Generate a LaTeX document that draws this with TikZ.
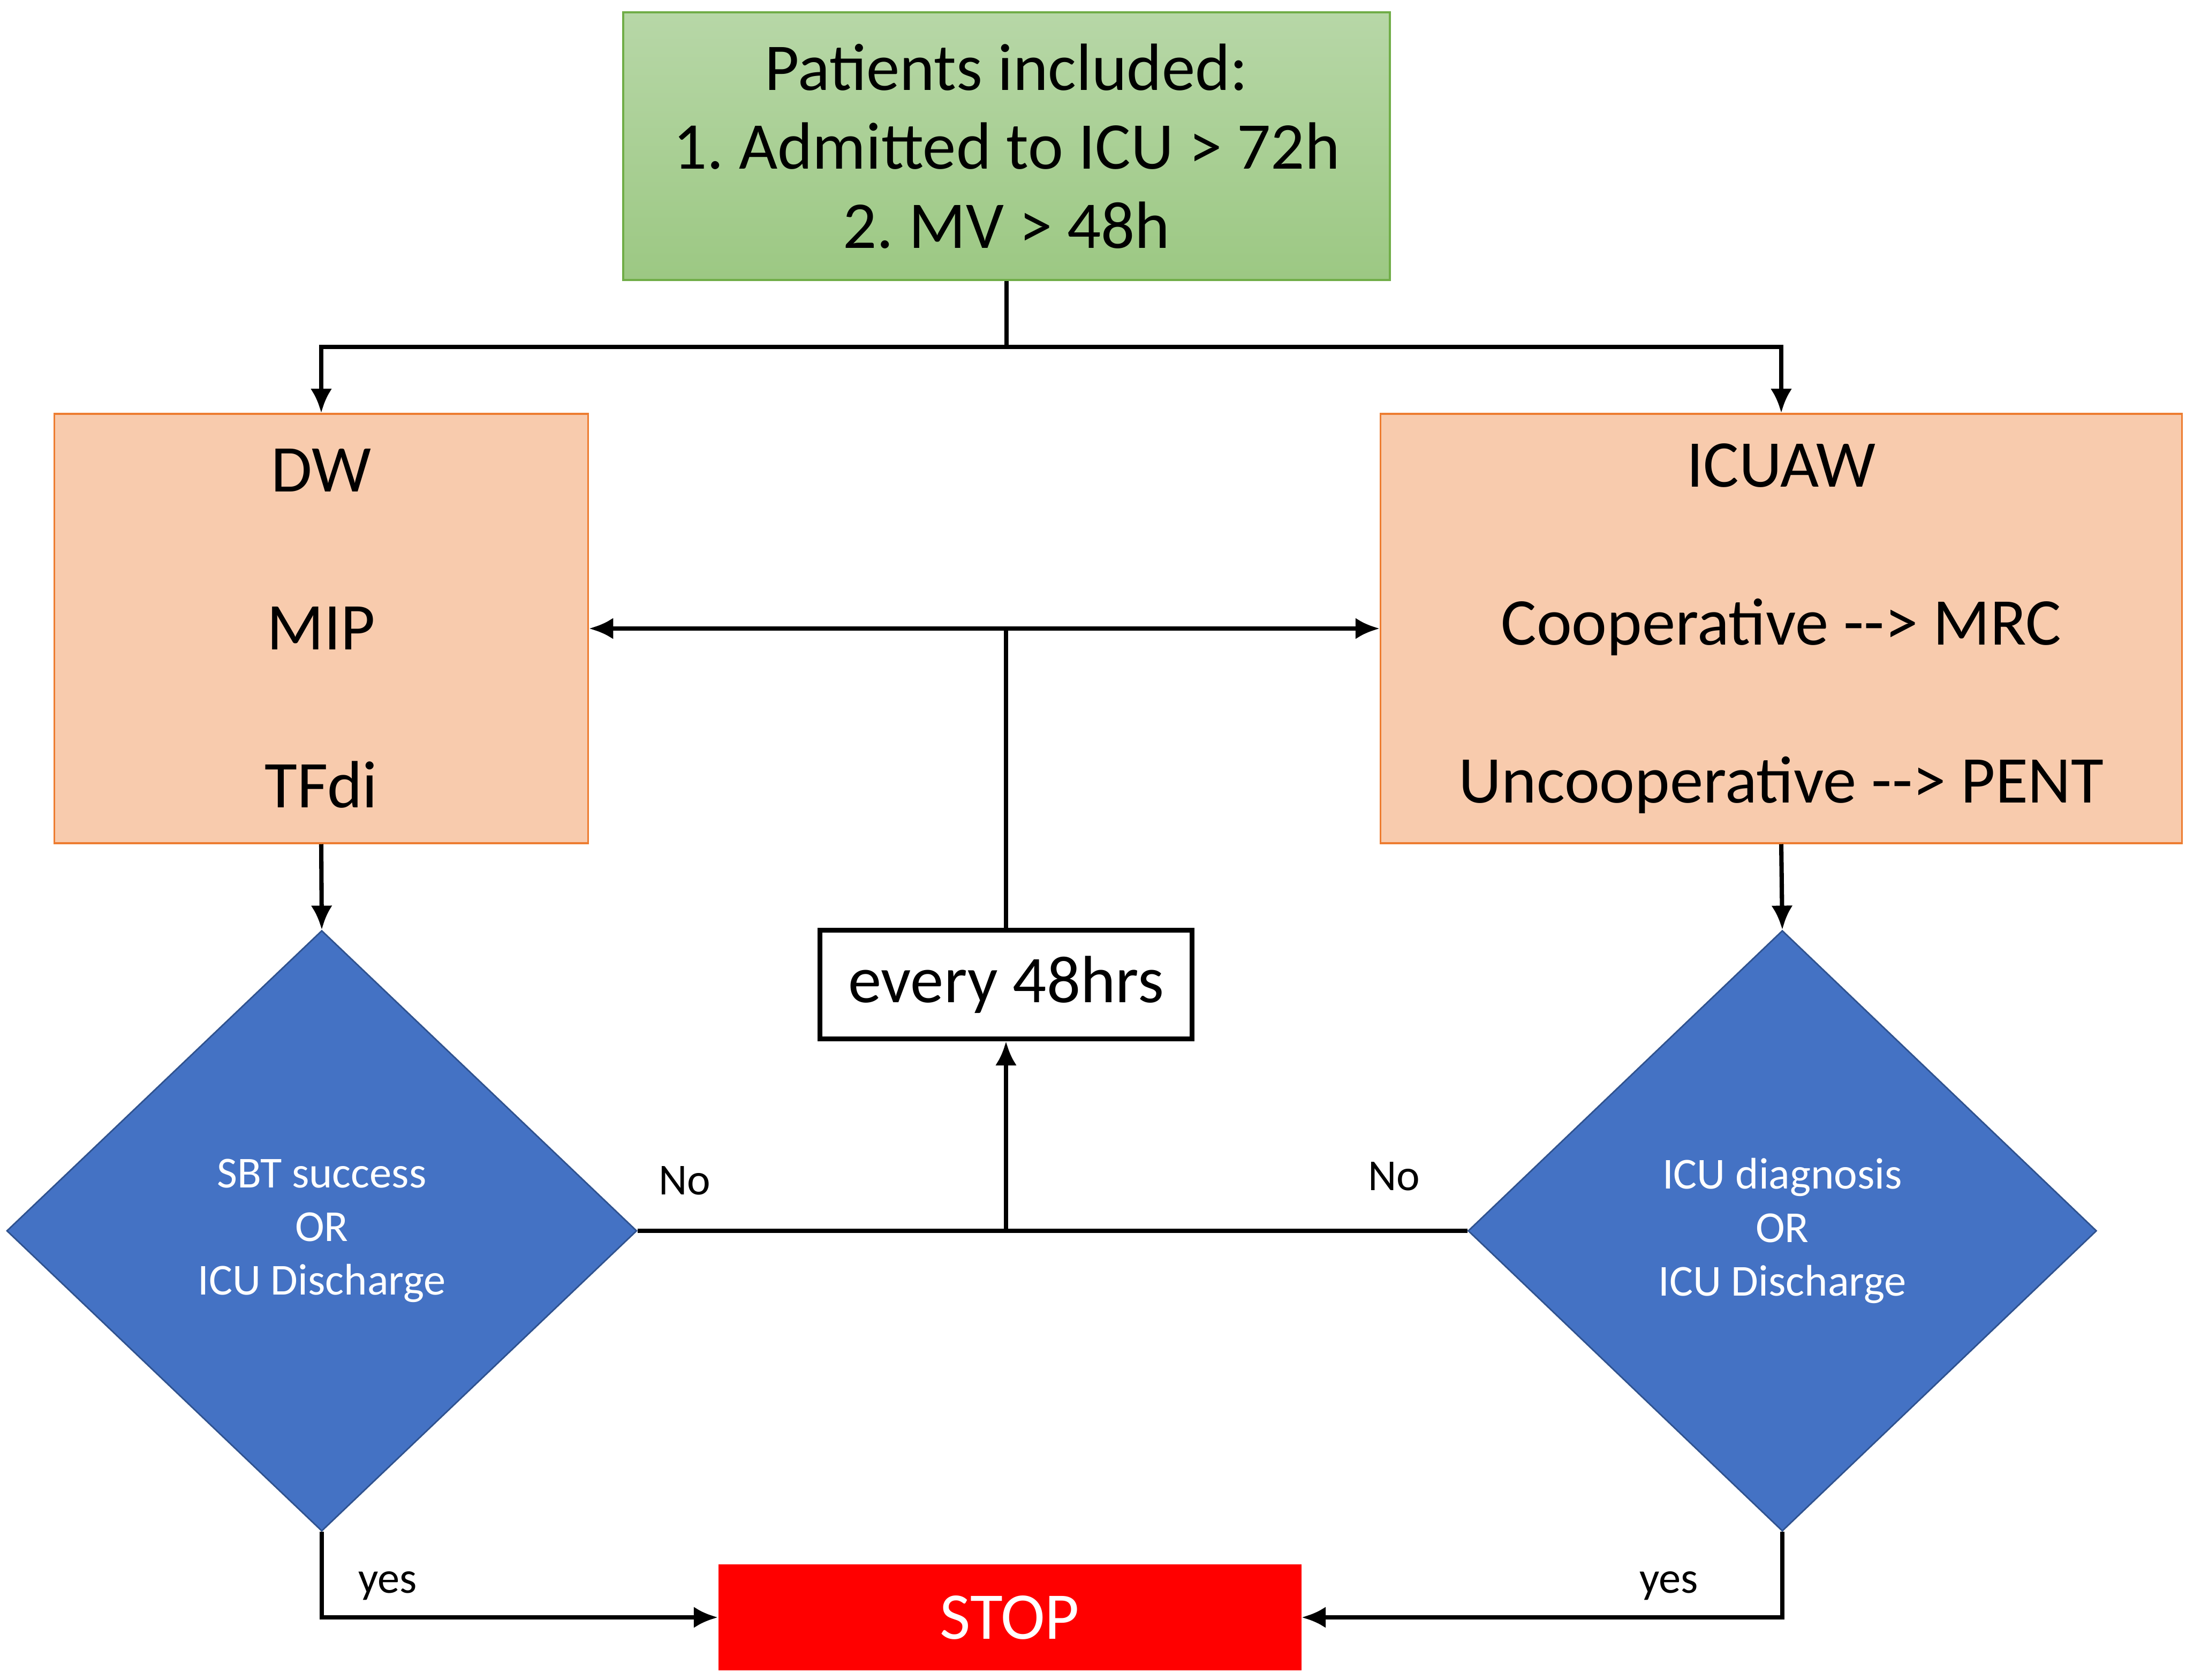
\documentclass[tikz,border=0pt]{standalone}
\usepackage{fontspec}
\setmainfont{Carlito}
\usetikzlibrary{shapes.geometric, arrows.meta, calc}
\frenchspacing

\definecolor{greentop}{RGB}{183,215,167}
\definecolor{greenbot}{RGB}{156,200,131}
\definecolor{greenline}{RGB}{112,173,71}
\definecolor{peach}{RGB}{248,203,173}
\definecolor{peachline}{RGB}{237,125,49}
\definecolor{flowblue}{RGB}{68,114,196}
\definecolor{flowblueline}{RGB}{47,82,143}

\begin{document}
\begin{tikzpicture}[
    big/.style    = {font=\fontsize{35.5}{42}\selectfont, align=center},
    smalltxt/.style = {font=\fontsize{23.5}{28.5}\selectfont, align=center},
    inclbox/.style = {rectangle, draw=greenline, line width=1pt,
                      top color=greentop, bottom color=greenbot, big},
    testbox/.style = {rectangle, draw=peachline, line width=1pt, fill=peach,
                      font=\fontsize{35.5}{84}\selectfont, align=center},
    decide/.style  = {diamond, draw=flowblueline, line width=0.8pt, fill=flowblue,
                      text=white, smalltxt, inner sep=0pt},
    arr/.style     = {line width=2.3pt, -{Latex[length=0.45cm, width=0.4cm]}},
    wire/.style    = {line width=2.3pt}]

    \useasboundingbox (0,0) rectangle (40.83,-31.38);

    % boxes
    \node[inclbox, minimum width=14.32cm, minimum height=5cm] (incl) at (18.80,-2.73)
        {Patients included:\\1.\ Admitted to ICU > 72h\\2.\ MV > 48h};
    \node[testbox, minimum width=9.97cm, minimum height=8.02cm] (dw) at (6.00,-11.74)
        {DW\\MIP\\TFdi};
    \node[testbox, minimum width=14.97cm, minimum height=8.02cm] (icuaw) at (33.27,-11.74)
        {ICUAW\\Cooperative -{}-{}> MRC\\Uncooperative -{}-{}> PENT};
    \node[rectangle, draw, line width=2.6pt, fill=white, big,
          minimum width=6.95cm, minimum height=2.03cm] (every) at (18.79,-18.39)
        {every 48hrs};

    % decisions
    \node[decide, minimum width=11.77cm, minimum height=11.22cm] (sbt) at (6.01,-22.99)
        {SBT success\\OR\\ICU Discharge};
    \node[decide, minimum width=11.74cm, minimum height=11.22cm] (diag) at (33.29,-22.99)
        {ICU diagnosis\\OR\\ICU Discharge};

    \node[rectangle, fill=red, text=white, big,
          minimum width=10.89cm, minimum height=1.98cm] (stop) at (18.86,-30.21) {STOP};

    % connectors
    \coordinate (split) at (18.80,-6.48);
    \draw[wire] (incl.south) -- (split);
    \draw[arr] (split) -| (dw.north);
    \draw[arr] (split) -| (icuaw.north);

    \draw[arr] (dw.south) -- (sbt.north);
    \draw[arr] (icuaw.south) -- (diag.north);

    \draw[wire] (sbt.east) -- (diag.west);
    \coordinate (join) at (every.south |- sbt.east);
    \draw[arr] (join) -- (every.south);

    \coordinate (fork) at (every.north |- dw.east);
    \draw[wire] (every.north) -- (fork);
    \draw[arr] (fork) -- (dw.east);
    \draw[arr] (fork) -- (icuaw.west);

    \draw[arr] (sbt.south) |- (stop.west);
    \draw[arr] (diag.south) |- (stop.east);

    % labels
    \node[smalltxt] (nol) at (12.79,-22.05) {No};
    \node[smalltxt] (nor) at (26.04,-21.97) {No};
    \node[smalltxt] (yesl) at (7.24,-29.62) {yes};
    \node[smalltxt] (yesr) at (31.17,-29.62) {yes};

\end{tikzpicture}
\end{document}
